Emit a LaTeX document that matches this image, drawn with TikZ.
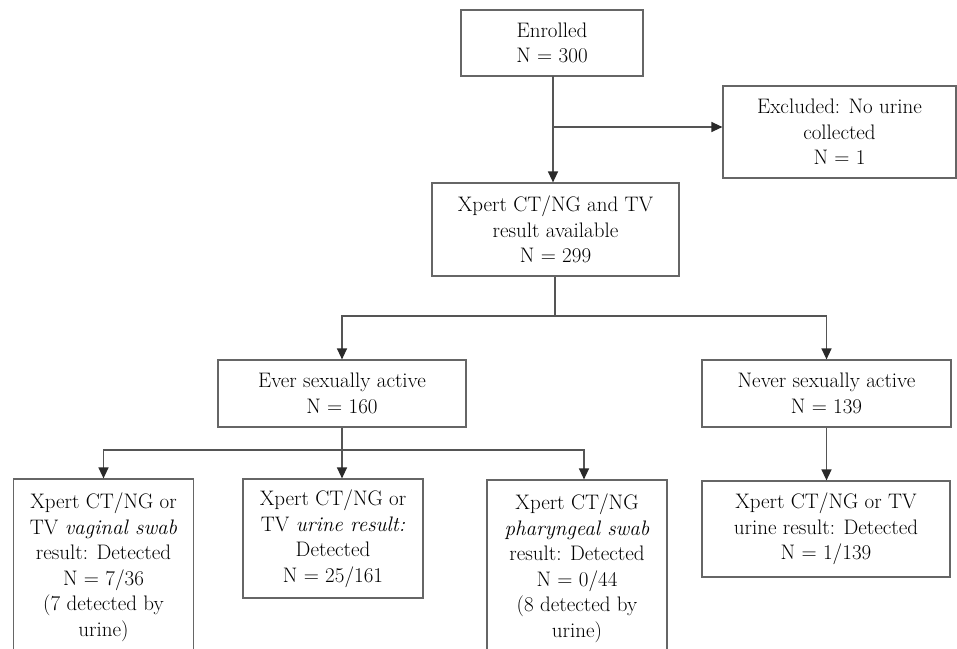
\documentclass[tikz,border=0pt]{standalone}
\usepackage{fontspec}
\usetikzlibrary{arrows.meta}
\definecolor{linegray}{HTML}{555555}
\definecolor{tipgray}{HTML}{2A2A2A}
\definecolor{boxgray}{HTML}{666666}
\tikzset{
  box/.style={draw=boxgray, line width=1.2pt, align=center, inner sep=0pt,
    font=\fontsize{21}{25.5}\selectfont, text=black},
  arr/.style={draw=linegray, line width=1.3pt,
    -{Triangle[length=11pt,width=10pt,fill=tipgray,color=tipgray]}},
  ln/.style={draw=linegray, line width=1.3pt}
}
\begin{document}
\begin{tikzpicture}[x=1pt,y=-1pt]
\useasboundingbox (0,0) rectangle (957,648);
\clip (0,0) rectangle (957,648);
\node[box, minimum width=182pt, minimum height=66pt] (enr) at (552,43) {Enrolled\\N = 300};
\node[box, minimum width=233pt, minimum height=92pt] (exc) at (839.5,132) {Excluded: No urine\\collected\\N = 1};
\node[box, minimum width=247pt, minimum height=93pt] (avail) at (555.5,229.5) {Xpert CT/NG and TV\\result available\\N = 299};
\node[box, minimum width=248pt, minimum height=67pt] (ever) at (342,393.5) {Ever sexually active\\N = 160};
\node[box, minimum width=249pt, minimum height=67pt] (never) at (826.5,393.5) {Never sexually active\\N = 139};
\node[box, minimum width=180pt, minimum height=176pt] (b1) at (103.5,567) {Xpert CT/NG or\\TV \textit{vaginal swab}\\result: Detected\\N = 7/36\\(7 detected by\\urine)};
\node[box, minimum width=180pt, minimum height=119pt] (b2) at (333,538.5) {Xpert CT/NG or\\TV \textit{urine result:}\\Detected\\N = 25/161};
\node[box, minimum width=180pt, minimum height=176pt] (b3) at (577,568) {Xpert CT/NG\\\textit{pharyngeal swab}\\result: Detected\\N = 0/44\\(8 detected by\\urine)};
\node[box, minimum width=248pt, minimum height=96pt] (b4) at (826,529) {Xpert CT/NG or TV\\urine result: Detected\\N = 1/139};
% connectors
\coordinate (k0) at (553,76);
\coordinate (k1) at (553,127);
\draw[arr] (k0) -- (k0 |- avail.north);
\draw[arr] (k1) -- (k1 -| exc.west);
\coordinate (j1) at (555,316);
\draw[ln] (j1 |- avail.south) -- (j1);
\draw[arr] (j1) -| (ever.north);
\draw[arr] (j1) -| (never.north);
\coordinate (j2) at (342,450);
\coordinate (c3) at (584,450);
\draw[arr] (ever.south) -- (ever.south |- b2.north);
\draw[arr] (j2) -| (b1.north);
\draw[arr] (j2) -- (c3) -- (c3 |- b3.north);
\draw[arr] (never.south) -- (never.south |- b4.north);
\end{tikzpicture}
\end{document}
